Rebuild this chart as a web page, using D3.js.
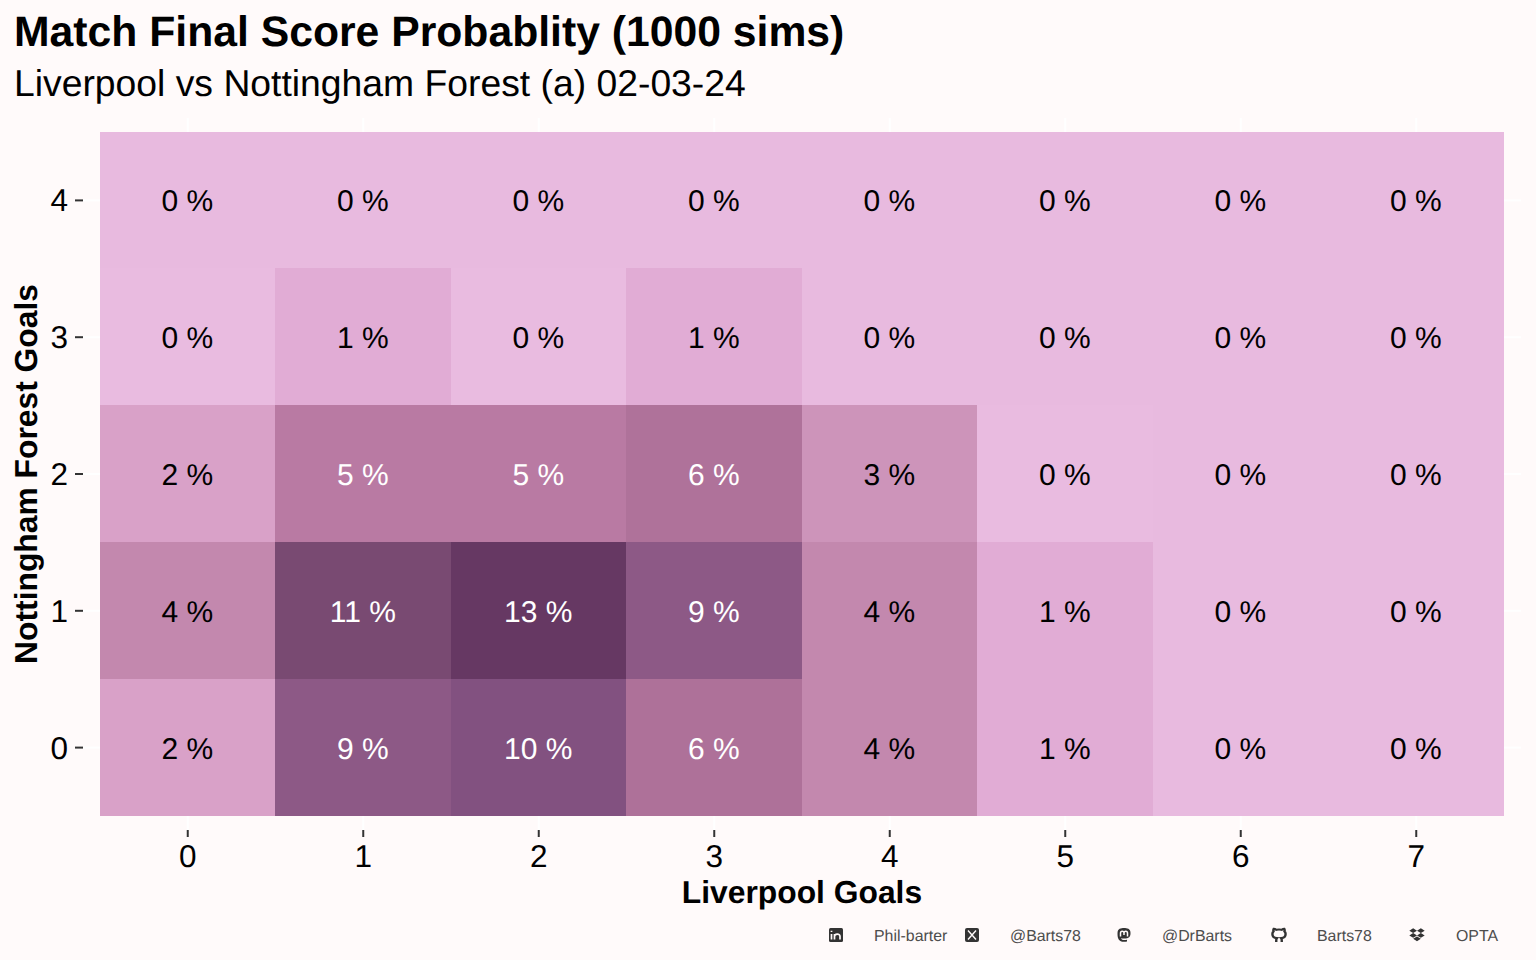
<!DOCTYPE html>
<html><head><meta charset="utf-8">
<script src="https://cdn.jsdelivr.net/npm/d3@7"></script>
<style>html,body{margin:0;padding:0;background:#FFFAFA;overflow:hidden}svg{display:block}text{font-family:"Liberation Sans",Arial,sans-serif;text-rendering:geometricPrecision}</style>
</head><body><svg id="c" width="1536" height="960"></svg>
<script>
const homeGoals=[0,1,2,3,4,5,6,7];
const awayGoals=[0,1,2,3,4];
// rows from away goals 0 to 4; value = percentage probability (shading precision)
const row0=[2.3,8.9,9.9,6.1,4.0,1.0,0.1,0.1];
const row1=[4.0,11.0,13.2,8.9,4.0,1.0,0.1,0.1];
const row2=[2.3,5.0,5.0,6.0,3.2,0.0,0.1,0.1];
const row3=[0.0,1.0,0.0,1.0,0.1,0.1,0.1,0.1];
const row4=[0.1,0.1,0.1,0.1,0.1,0.1,0.1,0.1];
const labels0=[2,9,10,6,4,1,0,0];
const labels1=[4,11,13,9,4,1,0,0];
const labels2=[2,5,5,6,3,0,0,0];
const labels3=[0,1,0,1,0,0,0,0];
const labels4=[0,0,0,0,0,0,0,0];
const rows=[row0,row1,row2,row3,row4];
const labelRows=[labels0,labels1,labels2,labels3,labels4];
const footer=["Phil-barter","@Barts78","@DrBarts","Barts78","OPTA"];
const rampValues=[0,1,2.3,4,5,6,8.9,9.9,11,13.2];
const rampColours=["#E9BBE0","#E1ACD5","#D9A1C8","#C388AE","#B97AA3","#AF729A","#8D5986","#825180","#794A72","#663863"];

const svg=d3.select("#c");
const L=100,R=1504,T=132,B=816;
const x=d3.scaleBand().domain(homeGoals).range([L,R]);
const y=d3.scaleBand().domain(awayGoals).range([B,T]);
const col=d3.scaleLinear().domain(rampValues).range(rampColours);
const cells=rows.flatMap((r,j)=>r.map((v,i)=>({h:homeGoals[i],a:awayGoals[j],v,l:labelRows[j][i]})));
const edge=Math.floor;

function stub(axis,tx,ty,size){
  const g=svg.append("g").attr("transform",`translate(${tx},${ty})`).call(axis.tickSize(size).tickFormat(""));
  g.select(".domain").remove();
  g.selectAll("line").attr("stroke","#fff").attr("stroke-width",2);
  return g;
}
stub(d3.axisBottom(x),0,B,14);
stub(d3.axisTop(x),0,T,14);
stub(d3.axisLeft(y),L,0,17);
stub(d3.axisRight(y),R,0,17);

svg.append("g").attr("shape-rendering","crispEdges").selectAll("rect").data(cells).join("rect")
 .attr("x",d=>edge(x(d.h))).attr("y",d=>edge(y(d.a)))
 .attr("width",d=>edge(x(d.h)+x.bandwidth())-edge(x(d.h)))
 .attr("height",d=>edge(y(d.a)+y.bandwidth())-edge(y(d.a)))
 .attr("fill",d=>col(d.v));
svg.append("g").selectAll("text").data(cells).join("text")
 .attr("x",d=>x(d.h)+x.bandwidth()/2-0.5).attr("y",d=>y(d.a)+y.bandwidth()/2+11)
 .attr("text-anchor","middle").attr("font-size",30)
 .attr("fill",d=>d.l>=5?"#fff":"#000").text(d=>d.l+" %");

const ax=svg.append("g").attr("transform",`translate(0,${B+14})`).call(d3.axisBottom(x).tickSize(7).tickPadding(7.5));
ax.select(".domain").remove();
ax.selectAll("line").attr("stroke","#333").attr("stroke-width",2);
ax.selectAll("text").attr("font-size",31.5).attr("fill","#000").attr("font-family",'"Liberation Sans"');
const ay=svg.append("g").attr("transform",`translate(${L-17},0)`).call(d3.axisLeft(y).tickSize(8).tickPadding(7));
ay.select(".domain").remove();
ay.selectAll("line").attr("stroke","#333").attr("stroke-width",2);
ay.selectAll("text").attr("font-size",31.5).attr("dy","0.35em").attr("fill","#000").attr("font-family",'"Liberation Sans"');

svg.append("text").attr("x",14).attr("y",46).attr("font-size",42.7).attr("font-weight","bold").text("Match Final Score Probablity (1000 sims)");
svg.append("text").attr("x",14).attr("y",95.5).attr("font-size",37.3).text("Liverpool vs Nottingham Forest (a) 02-03-24");
svg.append("text").attr("x",802).attr("y",903).attr("text-anchor","middle").attr("font-size",31.8).attr("font-weight","bold").text("Liverpool Goals");
svg.append("text").attr("transform","translate(37,474) rotate(-90)").attr("text-anchor","middle").attr("font-size",31.8).attr("font-weight","bold").text("Nottingham Forest Goals");

// footer
const iconX=[836,972,1124,1279,1417], textX=[874,1010,1162,1317,1456];
svg.append("g").selectAll("text").data(footer).join("text").attr("x",(d,i)=>textX[i]).attr("y",941)
 .attr("font-size",15.9).attr("fill","#4d4d4d").text(d=>d);
const ic="#333", bg="#FFFAFA";
const g1=svg.append("g").attr("transform",`translate(${iconX[0]},935)`);
g1.append("rect").attr("x",-7).attr("y",-7).attr("width",14).attr("height",14).attr("rx",1.5).attr("fill",ic);
g1.append("path").attr("d","M-4.5,-1V4.5M-4.5,-4.2V-3M-1.5,4.5V-1M-1.5,1.5C-1.5,-1.5 4,-2 4,1.5V4.5").attr("stroke",bg).attr("stroke-width",1.7).attr("fill","none");
const g2=svg.append("g").attr("transform",`translate(${iconX[1]},935)`);
g2.append("rect").attr("x",-7).attr("y",-7).attr("width",14).attr("height",14).attr("rx",2).attr("fill",ic);
g2.append("path").attr("d","M-4,-4.5L4,4.5M4,-4.5L-4,4.5").attr("stroke",bg).attr("stroke-width",1.4);
const g3=svg.append("g").attr("transform",`translate(${iconX[2]},935)`);
g3.append("path").attr("d","M-6.5,-2C-6.5,-6.5 -3,-7 0,-7C3,-7 6.5,-6.5 6.5,-2C6.5,2 5,3.5 0,3.5C-1,3.5 -2,3.4 -3,3.2C-2.5,5 0,5.2 3,4.8V6.4C0,7.4 -5,7 -6,3C-6.4,1.5 -6.5,0 -6.5,-2Z").attr("fill",ic);
g3.append("path").attr("d","M-3.5,1.5V-2C-3.5,-4.5 0,-4.5 0,-2V0M0,-2C0,-4.5 3.5,-4.5 3.5,-2V1.5").attr("stroke",bg).attr("stroke-width",1.5).attr("fill","none");
const g4=svg.append("g").attr("transform",`translate(${iconX[3]},935) scale(1.1,1)`);
g4.append("path").attr("d","M-2.5,7C-2.5,5 -2.7,4 -2,3.2C-5,3 -6,1.5 -6,-1C-6,-2.2 -5.6,-3 -5,-3.6C-5.3,-4.5 -5.2,-5.5 -4.8,-6.2C-3.8,-6.2 -3,-5.7 -2.3,-5.2C-0.8,-5.6 0.8,-5.6 2.3,-5.2C3,-5.7 3.8,-6.2 4.8,-6.2C5.2,-5.5 5.3,-4.5 5,-3.6C5.6,-3 6,-2.2 6,-1C6,1.5 5,3 2,3.2C2.7,4 2.5,5 2.5,7").attr("fill","none").attr("stroke",ic).attr("stroke-width",2.2);
const g5=svg.append("g").attr("transform",`translate(${iconX[4]},935) scale(1.1,0.95)`);
g5.append("path").attr("d","M-3.5,-7L0,-4.5L-3.5,-2L-7,-4.5ZM3.5,-7L7,-4.5L3.5,-2L0,-4.5ZM-3.5,-2L0,0.5L-3.5,3L-7,0.5ZM3.5,-2L7,0.5L3.5,3L0,0.5ZM-3.5,4L0,1.6L3.5,4L0,6.5Z").attr("fill",ic);
</script></body></html>
